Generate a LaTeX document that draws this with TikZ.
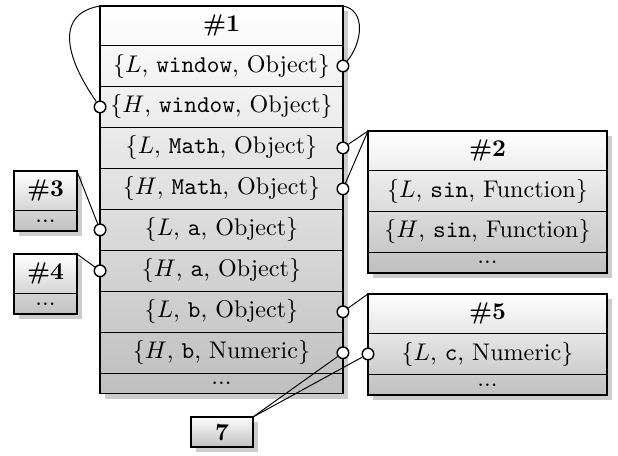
\documentclass[tikz,border=0pt]{standalone}
\usepackage{tikz}
\usetikzlibrary{positioning, calc, backgrounds}

\tikzset{
    cell/.style={draw, inner sep=0pt, outer sep=0pt, minimum height=17pt},
    headcell/.style={cell, minimum height=16.4pt, font=\bfseries},
    dotcell/.style={cell, minimum height=8.5pt},
    ptr/.style={circle, draw, fill=white, inner sep=0pt, minimum size=4.8pt},
}
% shadow and shading behind a stack of cells
\newcommand{\tablebg}[2]{%
    \fill[black!20] ($(#1.north west)+(5,5)$) rectangle ($(#2.south east)+(5,5)$);
    \shade[top color=white, bottom color=black!25] (#1.north west) rectangle (#2.south east);}

\begin{document}
\begin{tikzpicture}[x=0.415pt, y=-0.415pt, semithick]
    \useasboundingbox (0,0) rectangle (618,456);

    % Object #1
    \begin{scope}[every node/.append style={minimum width=100.8pt}]
        \node[headcell, anchor=north] (m-head) at (221.5,6) {\#1};
        \node[cell, below=0pt of m-head] (m-lwin) {$\{L$, \texttt{window}, Object$\}$};
        \node[cell, below=0pt of m-lwin] (m-hwin) {$\{H$, \texttt{window}, Object$\}$};
        \node[cell, below=0pt of m-hwin] (m-lmath) {$\{L$, \texttt{Math}, Object$\}$};
        \node[cell, below=0pt of m-lmath] (m-hmath) {$\{H$, \texttt{Math}, Object$\}$};
        \node[cell, below=0pt of m-hmath] (m-la) {$\{L$, \texttt{a}, Object$\}$};
        \node[cell, below=0pt of m-la] (m-ha) {$\{H$, \texttt{a}, Object$\}$};
        \node[cell, below=0pt of m-ha] (m-lb) {$\{L$, \texttt{b}, Object$\}$};
        \node[cell, below=0pt of m-lb] (m-hb) {$\{H$, \texttt{b}, Numeric$\}$};
        \node[dotcell, below=0pt of m-hb] (m-dots) {...};
    \end{scope}

    % Object #2
    \begin{scope}[every node/.append style={minimum width=99.2pt}]
        \node[headcell, anchor=north] (s-head) at (487.5,131) {\#2};
        \node[cell, below=0pt of s-head] (s-l) {$\{L$, \texttt{sin}, Function$\}$};
        \node[cell, below=0pt of s-l] (s-h) {$\{H$, \texttt{sin}, Function$\}$};
        \node[dotcell, below=0pt of s-h] (s-dots) {...};
    \end{scope}

    % Objects #3 and #4
    \begin{scope}[every node/.append style={minimum width=26.1pt}]
        \node[headcell, anchor=north] (a-head) at (45.5,171) {\#3};
        \node[dotcell, below=0pt of a-head] (a-dots) {...};
        \node[headcell, anchor=north] (b-head) at (45.5,254) {\#4};
        \node[dotcell, below=0pt of b-head] (b-dots) {...};
    \end{scope}

    % Object #5
    \begin{scope}[every node/.append style={minimum width=99.2pt}]
        \node[headcell, anchor=north] (c-head) at (487.5,294) {\#5};
        \node[cell, below=0pt of c-head] (c-l) {$\{L$, \texttt{c}, Numeric$\}$};
        \node[dotcell, below=0pt of c-l] (c-dots) {...};
    \end{scope}

    % Value
    \node[cell, minimum width=25.7pt, minimum height=12.45pt, font=\bfseries, anchor=north] (seven) at (222,417) {7};

    % Shadows and shading
    \begin{scope}[on background layer]
        \tablebg{m-head}{m-dots}
        \tablebg{s-head}{s-dots}
        \tablebg{a-head}{a-dots}
        \tablebg{b-head}{b-dots}
        \tablebg{c-head}{c-dots}
        \tablebg{seven}{seven}
    \end{scope}

    % Pointers
    \node[ptr] (p-lwin) at (m-lwin.east) {};
    \node[ptr] (p-hwin) at (m-hwin.west) {};
    \node[ptr] (p-lmath) at (m-lmath.east) {};
    \node[ptr] (p-hmath) at (m-hmath.east) {};
    \node[ptr] (p-la) at (m-la.west) {};
    \node[ptr] (p-ha) at (m-ha.west) {};
    \node[ptr] (p-lb) at (m-lb.east) {};
    \node[ptr] (p-hb) at (m-hb.east) {};
    \node[ptr] (p-lc) at (c-l.west) {};

    \draw[thin] (p-lwin) to[out=50, in=-10, looseness=1.1] (m-head.north east);
    \draw[thin] (p-hwin) to[out=125, in=190, looseness=1.3] (m-head.north west);
    \draw[thin] (p-lmath) -- (s-head.north west);
    \draw[thin] (p-hmath) -- (s-head.north west);
    \draw[thin] (p-la) -- (a-head.north east);
    \draw[thin] (p-ha) -- (b-head.north east);
    \draw[thin] (p-lb) -- (c-head.north west);
    \draw[thin] (p-hb) -- (seven.north east);
    \draw[thin] (p-lc) -- (seven.north east);
\end{tikzpicture}
\end{document}
